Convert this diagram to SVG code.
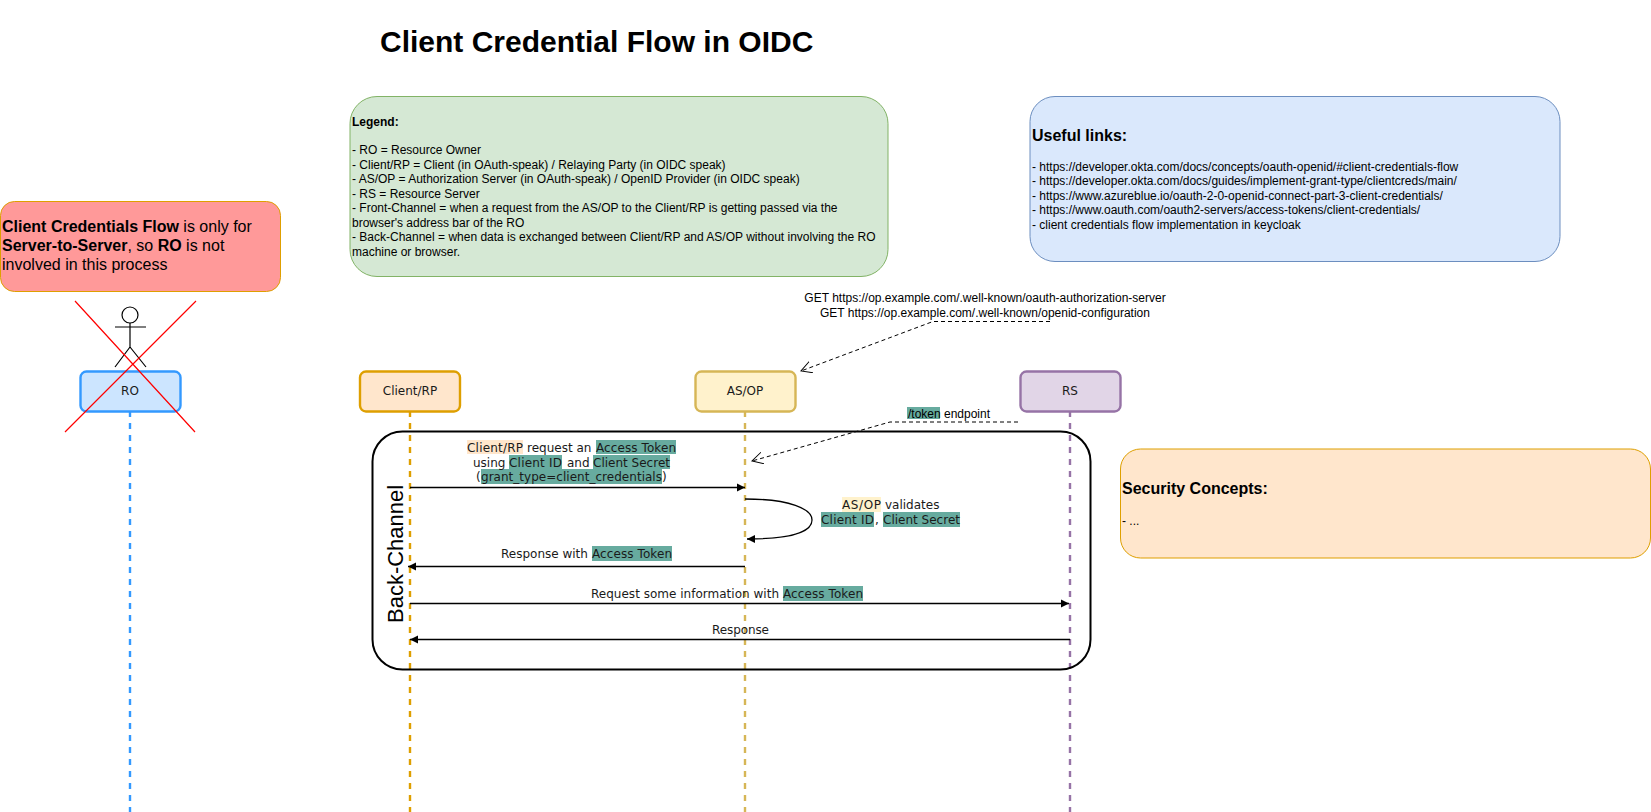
<svg xmlns="http://www.w3.org/2000/svg" width="1651" height="812" viewBox="0 0 1651 812">
<style>
text{font-family:"Liberation Sans",Arial,sans-serif;font-size:12px;fill:#000}
.d{font-family:"DejaVu Sans",Verdana,sans-serif;font-size:12px;fill:#1a1a1a}
.m{text-anchor:middle}
.b{font-weight:bold}
.h16{font-size:16px}
.hl{fill:#67ab9f}
.n{stroke-width:2.4}
.life{fill:none;stroke-width:2.4;stroke-dasharray:6 6}
.c{fill:none;stroke:#000;stroke-width:1.3}
.dash{fill:none;stroke:#000;stroke-width:1;stroke-dasharray:4 3}
.x{stroke:#ff0000;stroke-width:1.2;fill:none}
.a{fill:none;stroke:#000;stroke-width:1.2}
</style>
<defs>
<marker id="solid" markerUnits="userSpaceOnUse" markerWidth="10" markerHeight="10" refX="8" refY="4.500" orient="auto"><path d="M0 0.500L8 4.500L0 8.500Z" fill="#000"/></marker>
<marker id="open" markerUnits="userSpaceOnUse" markerWidth="14" markerHeight="14" refX="11" refY="6" orient="auto"><path d="M0 0L11 6L0 12" fill="none" stroke="#000" stroke-width="1"/></marker>
</defs>
<rect width="1651" height="812" fill="#fff"/>
<g id="title"><text x="380" y="52" class="b" style="font-size:30px">Client Credential Flow in OIDC</text></g>
<g id="legend">
<rect x="350" y="96.500" width="538" height="180" rx="27" fill="#d5e8d4" stroke="#82b366"/>
<text x="352" y="126" class="b">Legend:</text>
<text x="352" y="154">- RO = Resource Owner</text>
<text x="352" y="169">- Client/RP = Client (in OAuth-speak) / Relaying Party (in OIDC speak)</text>
<text x="352" y="183">- AS/OP = Authorization Server (in OAuth-speak) / OpenID Provider (in OIDC speak)</text>
<text x="352" y="198">- RS = Resource Server</text>
<text x="352" y="212">- Front-Channel = when a request from the AS/OP to the Client/RP is getting passed via the</text>
<text x="352" y="227">browser's address bar of the RO</text>
<text x="352" y="241">- Back-Channel = when data is exchanged between Client/RP and AS/OP without involving the RO</text>
<text x="352" y="256">machine or browser.</text>
</g>
<g id="links">
<rect x="1030" y="96.500" width="530" height="165" rx="25" fill="#dae8fc" stroke="#6c8ebf"/>
<text x="1032" y="141" class="b h16">Useful links:</text>
<text x="1032" y="171">- https://developer.okta.com/docs/concepts/oauth-openid/#client-credentials-flow</text>
<text x="1032" y="185">- https://developer.okta.com/docs/guides/implement-grant-type/clientcreds/main/</text>
<text x="1032" y="200">- https://www.azureblue.io/oauth-2-0-openid-connect-part-3-client-credentials/</text>
<text x="1032" y="214">- https://www.oauth.com/oauth2-servers/access-tokens/client-credentials/</text>
<text x="1032" y="229">- client credentials flow implementation in keycloak</text>
</g>
<g id="note-red">
<rect x="0.500" y="201.500" width="280" height="90" rx="14" fill="#ff9999" stroke="#de9f00"/>
<text x="2" y="232" class="h16"><tspan class="b">Client Credentials Flow</tspan> is only for</text>
<text x="2" y="251" class="h16"><tspan class="b">Server-to-Server</tspan>, so <tspan class="b">RO</tspan> is not</text>
<text x="2" y="270" class="h16">involved in this process</text>
</g>
<g id="security">
<rect x="1120.500" y="449" width="530" height="109" rx="20" fill="#ffe6cc" stroke="#de9f00"/>
<text x="1122" y="494" class="b h16">Security Concepts:</text>
<text x="1122" y="525">- ...</text>
</g>
<g id="ro-lifeline"><path class="life" d="M130 411V812" stroke="#3399ff"/></g>
<g id="client-lifeline"><path class="life" d="M410 411V812" stroke="#de9f00"/></g>
<g id="asop-lifeline"><path class="life" d="M745 411V812" stroke="#d6b656"/></g>
<g id="rs-lifeline"><path class="life" d="M1070 411V812" stroke="#9673a6"/></g>
<g id="back-channel">
<rect x="372.500" y="431.500" width="718" height="238" rx="30" fill="none" stroke="#000" stroke-width="2"/>
<text transform="translate(403 623) rotate(-90)" style="font-size:22px">Back-Channel</text>
</g>
<g id="actor">
<circle class="a" cx="130" cy="315" r="8"/>
<path class="a" d="M130 323V347M115 327H146M130 347L115 367M130 347L146 367"/>
</g>
<g id="ro"><rect class="n" x="80.500" y="371.500" width="100" height="40" rx="6" fill="#cce5ff" stroke="#3399ff"/><text class="d m" x="130" y="395">RO</text></g>
<g id="client"><rect class="n" x="360" y="371.500" width="100" height="40" rx="6" fill="#ffe6cc" stroke="#de9f00"/><text class="d m" x="410" y="395">Client/RP</text></g>
<g id="asop"><rect class="n" x="695.500" y="371.500" width="100" height="40" rx="6" fill="#fff2cc" stroke="#d6b656"/><text class="d m" x="745" y="395">AS/OP</text></g>
<g id="rs"><rect class="n" x="1020.500" y="371.500" width="100" height="40" rx="6" fill="#e1d5e7" stroke="#9673a6"/><text class="d m" x="1070" y="395">RS</text></g>
<g id="x-mark"><path class="x" d="M75 301L195 432M196 301L65 432"/></g>
<g id="connectors">
<path class="c" d="M410 487.500H745" marker-end="url(#solid)"/>
<path class="c" d="M745 499C790 499 812 509 812 520C812 532 790 539 747 539" marker-end="url(#solid)"/>
<path class="c" d="M745 566.500H408" marker-end="url(#solid)"/>
<path class="c" d="M410 603.500H1069" marker-end="url(#solid)"/>
<path class="c" d="M1070 639.500H410" marker-end="url(#solid)"/>
<path class="dash" d="M1050 321.500H933L801 371" marker-end="url(#open)"/>
<path class="dash" d="M1018 422H890L752 461" marker-end="url(#open)"/>
</g>
<g id="labels">
<rect x="467" y="440" width="56" height="14" fill="#ffe6cc"/>
<rect class="hl" x="596" y="440" width="80" height="14"/>
<rect class="hl" x="509" y="455" width="53" height="14"/>
<rect class="hl" x="593" y="455" width="77" height="14"/>
<rect class="hl" x="481" y="469" width="181" height="15"/>
<text class="d" x="467" y="452" textLength="56">Client/RP</text>
<text class="d" x="527" y="452">request an</text>
<text class="d" x="596" y="452" textLength="80">Access Token</text>
<text class="d" x="473" y="467">using</text>
<text class="d" x="509" y="467" textLength="53">Client ID</text>
<text class="d" x="567" y="467">and</text>
<text class="d" x="593" y="467" textLength="77">Client Secret</text>
<text class="d" x="476" y="481">(</text>
<text class="d" x="481" y="481" textLength="181">grant_type=client_credentials</text>
<text class="d" x="662" y="481">)</text>
<rect x="842" y="497" width="39" height="15" fill="#fff2cc"/>
<rect class="hl" x="821" y="512" width="53" height="15"/>
<rect class="hl" x="883" y="512" width="77" height="15"/>
<text class="d" x="842" y="509" textLength="39">AS/OP</text>
<text class="d" x="885" y="509">validates</text>
<text class="d" x="821" y="524" textLength="53">Client ID</text>
<text class="d" x="875" y="524">,</text>
<text class="d" x="883" y="524" textLength="77">Client Secret</text>
<rect class="hl" x="592" y="546" width="80" height="15"/>
<text class="d" x="501" y="558">Response with</text>
<text class="d" x="592" y="558" textLength="80">Access Token</text>
<rect class="hl" x="783" y="586" width="80" height="15"/>
<text class="d" x="591" y="598" textLength="188">Request some information with</text>
<text class="d" x="783" y="598" textLength="80">Access Token</text>
<text class="d" x="712" y="634" textLength="57">Response</text>
<rect class="hl" x="907" y="407" width="33" height="12"/>
<text x="908" y="418">/token</text>
<text x="944" y="418">endpoint</text>
<text class="m" x="985" y="302">GET https://op.example.com/.well-known/oauth-authorization-server</text>
<text class="m" x="985" y="317">GET https://op.example.com/.well-known/openid-configuration</text>
</g>
</svg>
